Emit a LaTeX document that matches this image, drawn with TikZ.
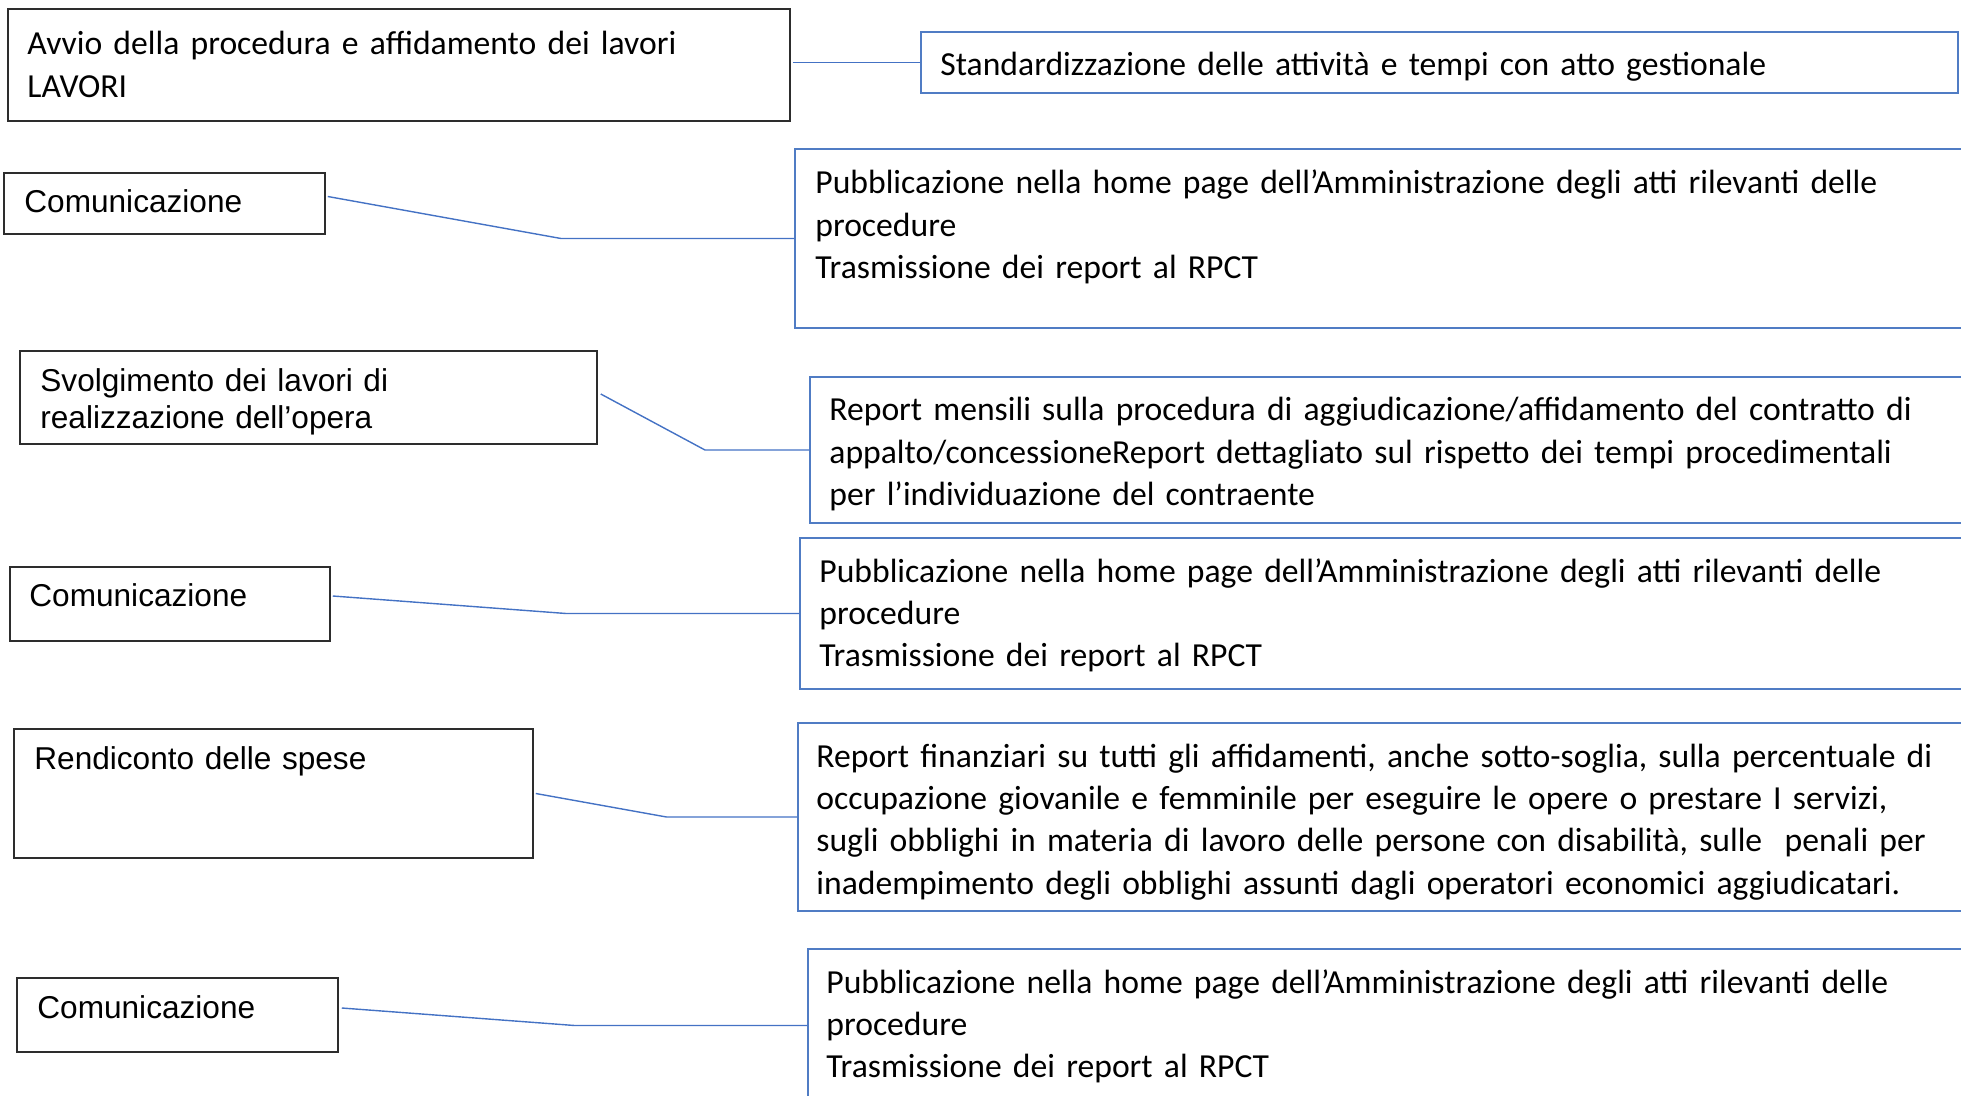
\documentclass[tikz,border=0pt]{standalone}
\usepackage{fontspec}
\setmainfont{Carlito}
\newfontfamily\arialfont{Liberation Sans}
\usetikzlibrary{calc,fit}
\definecolor{lineblue}{RGB}{68,114,196}
\definecolor{boxblue}{RGB}{80,124,196}
\definecolor{boxgray}{RGB}{45,45,45}
\tikzset{
  lbox/.style={draw=boxgray, line width=0.75pt, inner sep=0pt, rectangle},
  rbox/.style={draw=boxblue, line width=0.8pt, inner sep=0pt, rectangle},
  rtext/.style={font=\fontsize{16.82pt}{21.2pt}\selectfont, inner sep=0pt, anchor=base west, align=left, text width=#1},
  rtext/.default=565pt,
  ltext/.style={font=\arialfont\fontsize{15.8pt}{18.3pt}\selectfont, inner sep=0pt, anchor=base west, align=left, text width=#1},
  ltext/.default=150pt,
  conn/.style={draw=lineblue, line width=0.7pt}
}
\begin{document}
\begin{tikzpicture}[x=0.5pt,y=-0.5pt]
\useasboundingbox (0,0) rectangle (1961,1096);
\clip (0,0) rectangle (1961,1096);
% left boxes
\node[lbox, fit={(8,9) (790,121)}] (l1) {};
\node[lbox, fit={(4,173) (325,234)}] (l2) {};
\node[lbox, fit={(20,351) (597,444)}] (l3) {};
\node[lbox, fit={(10,567) (330,641)}] (l4) {};
\node[lbox, fit={(14,729) (533,858)}] (l5) {};
\node[lbox, fit={(17,978) (338,1052)}] (l6) {};
% right boxes
\node[rbox, fit={(921,32) (1958,93)}] (r1) {};
\node[rbox, fit={(795,149) (1995,328)}] (r2) {};
\node[rbox, fit={(810,377) (1995,523)}] (r3) {};
\node[rbox, fit={(800,538) (1995,689)}] (r4) {};
\node[rbox, fit={(798,723) (1995,911)}] (r5) {};
\node[rbox, fit={(808,949) (1995,1102)}] (r6) {};
% left texts
\node[rtext=330pt] (tl1) at (27,55) {Avvio della procedura e affidamento dei lavori\\LAVORI};
\node[ltext] (tl2) at (24,213) {Comunicazione};
\node[ltext=180pt] (tl3) at (40,392) {Svolgimento dei lavori di\\realizzazione dell’opera};
\node[ltext] (tl4) at (29,607) {Comunicazione};
\node[ltext=200pt] (tl5) at (34,769) {Rendiconto delle spese};
\node[ltext] (tl6) at (37,1018) {Comunicazione};
% right texts
\node[rtext=500pt] (tr1) at (940,76) {Standardizzazione delle attività e tempi con atto gestionale};
\node[rtext] (tr2) at (815,194) {Pubblicazione nella home page dell’Amministrazione degli atti rilevanti delle\\procedure\\Trasmissione dei report al RPCT};
\node[rtext] (tr3) at (829,421) {Report mensili sulla procedura di aggiudicazione/affidamento del contratto di\\appalto/concessioneReport dettagliato sul rispetto dei tempi procedimentali\\per l’individuazione del contraente};
\node[rtext] (tr4) at (819,582) {Pubblicazione nella home page dell’Amministrazione degli atti rilevanti delle\\procedure\\Trasmissione dei report al RPCT};
\node[rtext=568pt] (tr5) at (816,767) {Report finanziari su tutti gli affidamenti, anche sotto-soglia, sulla percentuale di\\occupazione giovanile e femminile per eseguire le opere o prestare I servizi,\\sugli obblighi in materia di lavoro delle persone con disabilità, sulle\ \ penali per\\inadempimento degli obblighi assunti dagli operatori economici aggiudicatari.};
\node[rtext] (tr6) at (826,993) {Pubblicazione nella home page dell’Amministrazione degli atti rilevanti delle\\procedure\\Trasmissione dei report al RPCT};
% connectors
\draw[conn] ($(l1.east |- r1.west)+(2,0)$) -- (r1.west);
\coordinate (s2) at ($(l2.east)+(2,-7)$);
\coordinate (m2) at ($(s2)!.5!(r2.west)$);
\draw[conn] (s2) -- (m2 |- r2.west) -- (r2.west);
\coordinate (s3) at ($(l3.east)+(3,-3.5)$);
\coordinate (m3) at ($(s3)!.5!(r3.west)$);
\draw[conn] (s3) -- (m3 |- r3.west) -- (r3.west);
\coordinate (s4) at ($(l4.east)+(2,-8)$);
\coordinate (m4) at ($(s4)!.5!(r4.west)$);
\draw[conn] (s4) -- (m4 |- r4.west) -- (r4.west);
\coordinate (s5) at ($(l5.east)+(2,0)$);
\coordinate (m5) at ($(s5)!.5!(r5.west)$);
\draw[conn] (s5) -- (m5 |- r5.west) -- (r5.west);
\coordinate (s6) at ($(l6.east)+(3,-7)$);
\coordinate (m6) at ($(s6)!.5!(r6.west)$);
\draw[conn] (s6) -- (m6 |- r6.west) -- (r6.west);
\end{tikzpicture}
\end{document}
